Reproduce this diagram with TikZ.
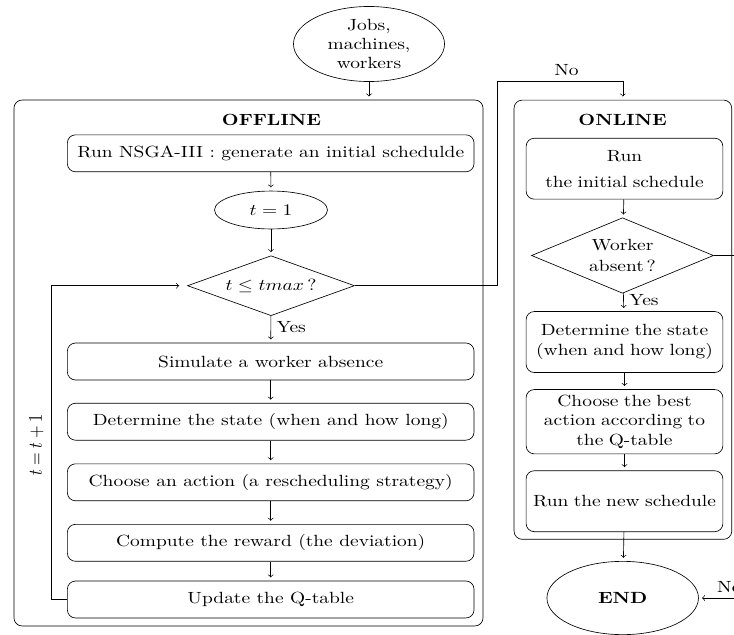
\documentclass[tikz,border=0pt]{standalone}
\usepackage[no-math]{fontspec}
\setmainfont{lmroman10}[Extension=.otf,UprightFont=*-regular,BoldFont=*-bold,ItalicFont=*-italic,FakeStretch=1.2]
\usetikzlibrary{shapes.geometric}
\newcommand{\wmath}[1]{\scalebox{1.2}[1]{$#1$}}

\begin{document}
\begin{tikzpicture}[x=0.617pt,y=-0.617pt,
    frame/.style={draw,rounded corners=5pt},
    stepbox/.style={draw,rounded corners=5pt,minimum width=250.9pt,minimum height=22.8pt},
    onbox/.style={draw,rounded corners=5pt,text width=118pt,inner xsep=1.7pt,align=center,minimum height=37.6pt}]
  \path[use as bounding box] (0,0) rectangle (734,634);
  \clip (0,0) rectangle (734,634);
  \draw
    (248.5,363) node[frame,minimum width=289.4pt,minimum height=324.5pt] (offline){}
    (622.9,319.7) node[frame,minimum width=134.3pt,minimum height=271pt] (online){}
    (369,44) node[ellipse,draw,inner sep=0pt,minimum width=93.2pt,minimum height=46.3pt,align=center] (data){Jobs,\\machines,\\workers}
    (271.5,119.5) node[font=\bfseries] (offtitle){OFFLINE}
    (622.7,119.5) node[font=\bfseries] (ontitle){ONLINE}
    (270.7,153.3) node[stepbox] (nsga){Run NSGA-III : generate an initial schedulde}
    (271,210) node[ellipse,draw,minimum width=69.7pt,minimum height=23.4pt] (t1){\wmath{t=1}}
    (271,285.7) node[diamond,draw,aspect=2.8,inner sep=0pt,minimum width=103pt,minimum height=37pt] (tmax){\wmath{t\leq tmax\,?}}
    (270.7,361.5) node[stepbox] (sim){Simulate a worker absence}
    (270.7,421.7) node[stepbox] (state){Determine the state (when and how long)}
    (270.7,482.3) node[stepbox] (act){Choose an action (a rescheduling strategy)}
    (270.7,542.8) node[stepbox] (rew){Compute the reward (the deviation)}
    (270.7,599.5) node[stepbox] (upd){Update the Q-table}
    (36.5,445) node[rotate=90] (incr){\scalebox{1}[1.2]{$t=t+1$}}
    (624.5,168.7) node[onbox] (run){Run\\[4pt]the initial schedule}
    (622.5,255.5) node[diamond,draw,aspect=2.4,inner sep=0pt,minimum width=112.3pt,minimum height=46.6pt,align=center] (absent){Worker\\[1pt]absent\,?}
    (624.5,342) node[onbox] (state2){Determine the state\\(when and how long)}
    (624.5,421.7) node[onbox] (best){Choose the best\\action according to\\the Q-table}
    (624.5,501.2) node[onbox] (newrun){Run the new schedule}
    (622.7,598) node[ellipse,draw,minimum width=93.5pt,minimum height=45.2pt,font=\bfseries] (stop){END}
    (497.7,81.3) coordinate (up)
    (760,255.5) coordinate (out);
  \begin{scope}[->,shorten >=2pt]
    \draw (data) to (data |- offline.north);
    \draw (nsga) to (t1);
    \draw (t1) to (tmax);
    \draw (tmax) to node[right,pos=0.4]{Yes} (sim);
    \draw (sim) to (state);
    \draw (state) to (act);
    \draw (act) to (rew);
    \draw (rew) to (upd);
    \draw[shorten >=5pt] (upd.west) -- ++(-15.5,0) |- (tmax.west);
    \draw (tmax.east) -| (up) -| node[above,pos=0.275]{No} (online.north);
    \draw (run) to (absent);
    \draw (absent) to node[right,pos=0.4]{Yes} (state2);
    \draw (state2) to (best);
    \draw (best) to (newrun);
    \draw (newrun) to (stop);
    \draw (absent.east) -- (out) |- node[above,pos=0.75]{No} (stop.east);
  \end{scope}
\end{tikzpicture}
\end{document}
